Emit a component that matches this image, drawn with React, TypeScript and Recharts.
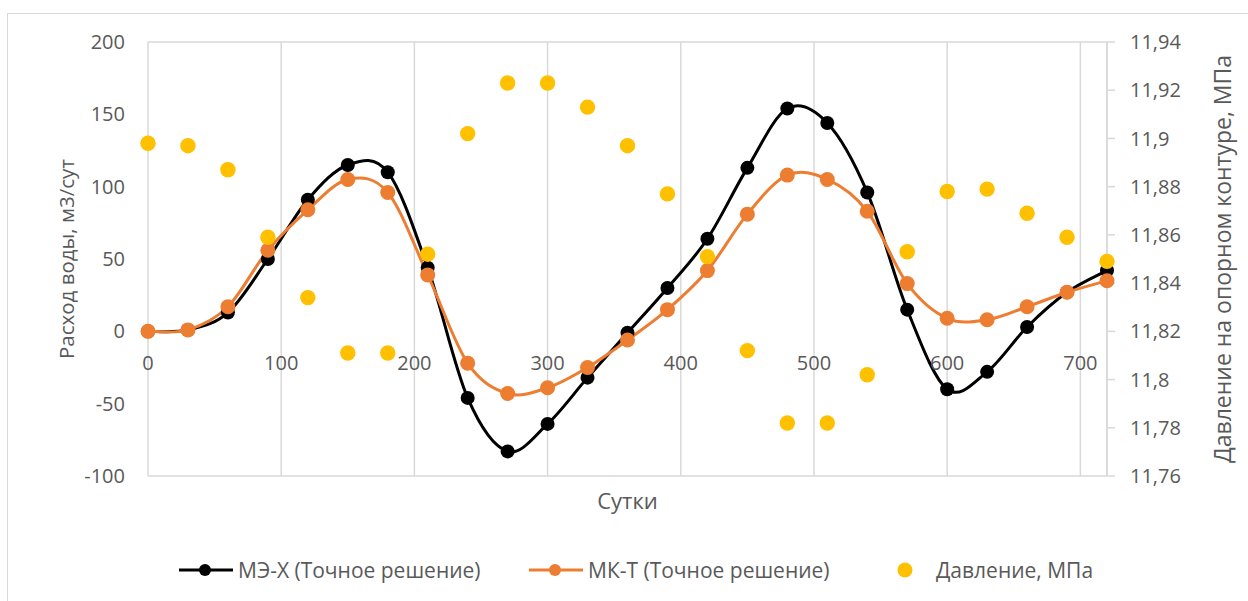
import React from "react"
import {
  ComposedChart,
  Line,
  XAxis,
  YAxis,
  CartesianGrid,
} from "recharts"

const DAYS = [0, 30, 60, 90, 120, 150, 180, 210, 240, 270, 300, 330, 360, 390, 420, 450, 480, 510, 540, 570, 600, 630, 660, 690, 720]
const ME_X = [0, 1, 13, 50, 91, 115, 110, 44, -46, -83, -64, -32, -1, 30, 64, 113, 154, 144, 96, 15, -40, -28, 3, 27, 42]
const MK_T = [0, 1, 17, 56, 84, 105, 96, 39, -22, -43, -39, -25, -6, 15, 42, 81, 108, 105, 83, 33, 9, 8, 17, 27, 35]
const PRESSURE = [11.898, 11.897, 11.887, 11.859, 11.834, 11.811, 11.811, 11.852, 11.902, 11.923, 11.923, 11.913, 11.897, 11.877, 11.851, 11.812, 11.782, 11.782, 11.802, 11.853, 11.878, 11.879, 11.869, 11.859, 11.849]

const X_TICKS = [0, 100, 200, 300, 400, 500, 600, 700]
const LEFT_TICKS = [-100, -50, 0, 50, 100, 150, 200]
const RIGHT_TICKS = [11.76, 11.78, 11.8, 11.82, 11.84, 11.86, 11.88, 11.9, 11.92, 11.94]

const data = DAYS.map((day, i) => ({
  day,
  mex: ME_X[i],
  mkt: MK_T[i],
  p: PRESSURE[i],
}))

const FONT = "'Open Sans', sans-serif"
const TEXT = "#595959"
const GRID = "#d9d9d9"
const FS = 20

const W = 1248
const H = 601
const M_TOP = 42
const M_BOTTOM = 65
const X_AXIS_H = 60
const PLOT_H = H - M_TOP - M_BOTTOM - X_AXIS_H

// Excel-like smoothed line (Catmull-Rom through the points)
const excelCurve = (context: any) => {
  let pts: number[][] = []
  return {
    areaStart() {},
    areaEnd() {},
    lineStart() {
      pts = []
    },
    point(x: number, y: number) {
      pts.push([+x, +y])
    },
    lineEnd() {
      const n = pts.length
      if (!n) return
      context.moveTo(pts[0][0], pts[0][1])
      for (let i = 0; i < n - 1; i++) {
        const p0 = pts[Math.max(i - 1, 0)]
        const p1 = pts[i]
        const p2 = pts[i + 1]
        const p3 = pts[Math.min(i + 2, n - 1)]
        context.bezierCurveTo(
          p1[0] + (p2[0] - p0[0]) / 6,
          p1[1] + (p2[1] - p0[1]) / 6,
          p2[0] - (p3[0] - p1[0]) / 6,
          p2[1] - (p3[1] - p1[1]) / 6,
          p2[0],
          p2[1]
        )
      }
    },
  }
}

const fmtRight = (v: number) => String(Number(v.toFixed(2))).replace(".", ",")

// x labels sit just under the zero line, as in Excel
const XTick = (props: any) => {
  const { x, y, payload } = props
  const zeroUp = (PLOT_H * (0 - LEFT_TICKS[0])) / (LEFT_TICKS[LEFT_TICKS.length - 1] - LEFT_TICKS[0])
  return (
    <text
      x={x}
      y={y - zeroUp + 31}
      textAnchor="middle"
      dominantBaseline="central"
      fill={TEXT}
      fontSize={FS}
      fontFamily={FONT}
    >
      {payload.value}
    </text>
  )
}

const YTitle = (props: any) => {
  const { viewBox, text, dxPos, size } = props
  const cx = viewBox.x + dxPos
  const cy = viewBox.y + viewBox.height / 2
  return (
    <text
      x={cx}
      y={cy}
      transform={`rotate(-90 ${cx} ${cy})`}
      textAnchor="middle"
      dominantBaseline="central"
      fill={TEXT}
      fontSize={size}
      fontFamily={FONT}
    >
      {text}
    </text>
  )
}

const XTitle = (props: any) => {
  const { viewBox } = props
  return (
    <text
      x={viewBox.x + viewBox.width / 2}
      y={viewBox.y + 24}
      textAnchor="middle"
      dominantBaseline="central"
      fill={TEXT}
      fontSize={22}
      fontFamily={FONT}
    >
      Сутки
    </text>
  )
}

const LegendItem = ({ left, color, line, label }: { left: number; color: string; line: boolean; label: string }) => (
  <div style={{ position: "absolute", left, top: 570, transform: "translateY(-50%)", display: "flex", alignItems: "center" }}>
    <svg width={line ? 54 : 16} height={18} style={{ display: "block" }}>
      {line && <line x1={0} y1={9} x2={54} y2={9} stroke={color} strokeWidth={3} />}
      <circle cx={line ? 26 : 8} cy={9} r={line ? 6 : 7.5} fill={color} />
    </svg>
    <span style={{ marginLeft: line ? 5 : 23, color: TEXT, fontSize: 21, fontFamily: FONT, whiteSpace: "nowrap" }}>{label}</span>
  </div>
)

export default function App() {
  return (
    <div style={{ position: "absolute", left: 0, top: 0, width: W, height: H, overflow: "hidden", background: "#fff" }}>
      <div style={{ position: "absolute", left: 7, top: 13, width: W, height: H, border: `1.5px solid ${GRID}` }} />
      <div style={{ position: "absolute", left: 0, top: 0 }}>
        <ComposedChart width={W} height={H} data={data} margin={{ top: M_TOP, right: 0, bottom: M_BOTTOM, left: 0 }}>
          <CartesianGrid stroke={GRID} strokeWidth={1.5} />
          <XAxis
            dataKey="day"
            type="number"
            domain={[0, 720]}
            ticks={X_TICKS}
            axisLine={false}
            tickLine={false}
            tickSize={0}
            tickMargin={0}
            height={X_AXIS_H}
            tick={<XTick />}
            interval={0}
            label={<XTitle />}
          />
          <YAxis
            yAxisId="left"
            domain={[-100, 200]}
            ticks={LEFT_TICKS}
            width={148}
            axisLine={false}
            tickLine={false}
            tickSize={0}
            tickMargin={23}
            interval={0}
            tick={{ fill: TEXT, fontSize: FS, fontFamily: FONT }}
            label={<YTitle text="Расход воды, м3/сут" dxPos={66} size={20.5} />}
          />
          <YAxis
            yAxisId="right"
            orientation="right"
            domain={[11.76, 11.94]}
            ticks={RIGHT_TICKS}
            width={141}
            axisLine={{ stroke: GRID, strokeWidth: 1.5 }}
            tickLine={{ stroke: GRID, strokeWidth: 1.5 }}
            tickSize={8}
            tickMargin={15}
            interval={0}
            tickFormatter={fmtRight}
            tick={{ fill: TEXT, fontSize: FS, fontFamily: FONT, textAnchor: "start" }}
            label={<YTitle text="Давление на опорном контуре, МПа" dxPos={115} size={23} />}
          />
          <Line
            yAxisId="left"
            dataKey="mex"
            type={excelCurve as any}
            stroke="#000000"
            strokeWidth={3}
            dot={{ r: 7, fill: "#000000", stroke: "none" }}
            isAnimationActive={false}
          />
          <Line
            yAxisId="left"
            dataKey="mkt"
            type={excelCurve as any}
            stroke="#ED7D31"
            strokeWidth={3}
            dot={{ r: 7.5, fill: "#ED7D31", stroke: "none" }}
            isAnimationActive={false}
          />
          <Line
            yAxisId="right"
            dataKey="p"
            stroke="none"
            strokeWidth={0}
            dot={{ r: 7.7, fill: "#FFC000", stroke: "none" }}
            isAnimationActive={false}
          />
        </ComposedChart>
      </div>
      <LegendItem left={179} color="#000000" line label="МЭ-X (Точное решение)" />
      <LegendItem left={529} color="#ED7D31" line label="МК-Т (Точное решение)" />
      <LegendItem left={897} color="#FFC000" line={false} label="Давление, МПа" />
    </div>
  )
}
